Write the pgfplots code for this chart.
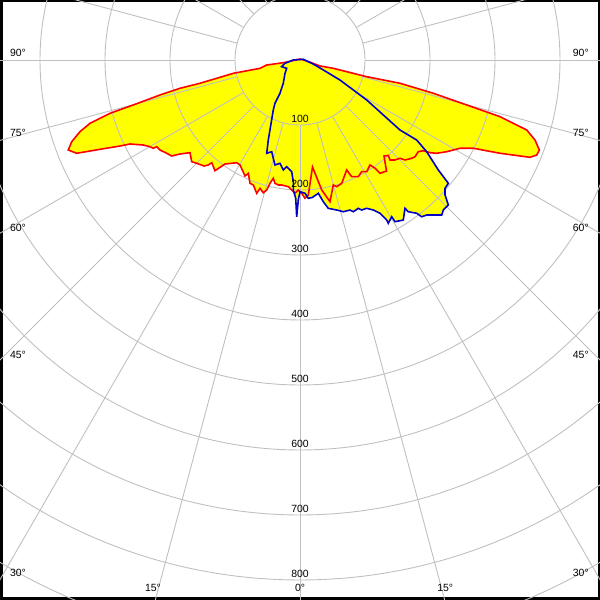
\documentclass[border=0pt]{standalone}
\usepackage{pgfplots}
\pgfplotsset{compat=1.18}
\usepackage{fontspec}
\setmainfont{Liberation Sans}
\definecolor{lgrid}{RGB}{192,192,192}
\definecolor{cblue}{RGB}{0,0,200}
\definecolor{cred}{RGB}{255,0,0}
\definecolor{cyel}{RGB}{255,255,0}
\pgfplotstableread{
x y
0 1.5
-25.7 -4.2
-51.2 -7.7
-61.5 -12.8
-102.6 -20.5
-153.8 -35.8
-184.6 -43.5
-215.4 -53.8
-256.5 -69.2
-292.3 -82
-323.1 -97.4
-338.5 -110.3
-351.2 -125.7
-356.5 -138.5
-343.5 -143.5
-307.7 -137.4
-276.9 -132.3
-261.5 -129.2
-241.1 -130.8
-230.8 -133.4
-225.7 -135.8
-220.5 -133.4
-215.4 -138.5
-205.1 -143.5
-197.4 -147.7
-184.6 -144.6
-169.2 -142.6
-166.6 -156.5
-158.9 -158.9
-147.7 -163.1
-141.1 -161.5
-135.8 -158
-130.8 -170.3
-123.1 -165.1
-115.4 -160
-105.1 -158.9
-97.4 -158
-92.3 -161.5
-84.6 -178.5
-79.5 -174.3
-76.9 -189.7
-71.8 -192.3
-66.6 -205.1
-61.5 -197.4
-56.5 -204.2
-51.2 -200
-46.2 -189.7
-41.1 -182
-38.5 -189.7
-33.4 -192.3
-28.2 -192.3
-18 -194.9
-12.8 -200
-7.7 -205.1
-2.6 -200
2.6 -205.1
7.7 -212.8
12.8 -207.7
19.2 -164.6
33.4 -200
46.2 -218
51.2 -192.3
56.5 -194.9
64.2 -189.7
71.8 -169.2
79.5 -179.5
89.7 -179.5
94.9 -171.8
102.6 -171.8
107.7 -161.5
115.4 -166.6
123.1 -174.3
133.1 -170.8
129.2 -147.7
135.8 -146.9
138.5 -153.8
146.2 -153.8
153.8 -151.2
161.5 -153.8
171.8 -151.2
176.9 -148.8
182 -141.1
189.7 -139.5
200 -142.6
210.3 -143.5
225.7 -141.1
235.8 -138.5
246.2 -135.8
266.6 -135.8
307.7 -143.5
353.8 -149.7
364.2 -146.2
368.2 -138.5
361.5 -123.1
348.8 -107.7
307.7 -87.2
256.5 -69.2
205.1 -51.2
153.8 -35.8
102.6 -25.7
51.2 -12.8
30.8 -9.2
10.3 -1.5
}\redcurve
\pgfplotstableread{
x y
5.1 1.1
-10.3 0
-23.1 -5.1
-28.2 -10.3
-20.5 -12.8
-23.1 -20.5
-25.7 -35.8
-30.8 -51.2
-38.5 -66.6
-41.1 -76.9
-46.2 -107.7
-48.8 -123.1
-51.2 -143.5
-43.5 -141.1
-41.1 -151.2
-38.5 -161.5
-30.8 -158.9
-25.7 -169.2
-20.5 -164.2
-12.8 -171.8
-10.3 -187.2
-10.3 -200
-6.6 -212.8
-5.1 -241.1
-2.6 -215.4
0 -202.6
7.7 -205.1
12.8 -212.8
18.9 -211.5
28.2 -205.1
35.8 -217.9
43.5 -228.2
56.5 -230.8
66.6 -233.4
76.9 -230.8
82 -233.4
89.7 -228.2
94.9 -230.8
102.6 -228.2
112.8 -230.8
123.1 -235.8
133.4 -246.2
135.8 -251.2
141.1 -241.1
146.2 -248.8
158.9 -246.2
161.5 -228.2
166.6 -233.4
179.5 -235.8
187.2 -241.1
194.9 -238.5
218 -238.5
220.5 -230.8
228.2 -223.1
223.1 -207.7
223.1 -197.4
228.2 -189.7
212.8 -169.2
194.9 -141.1
179.5 -123.1
153.8 -107.7
102.6 -61.5
61.5 -30.8
23.1 -7.7
18 -5.1
}\bluecurve
\tikzset{lbl/.style={font=\fontsize{10.5}{12}\selectfont, inner sep=0pt}}
\begin{document}
\begin{tikzpicture}
\begin{axis}[
  width=600bp, height=600bp, scale only axis,
  xmin=-461.54, xmax=461.54, ymin=-830.77, ymax=92.31,
  xtick=\empty, ytick=\empty,
  axis line style={black, line width=5bp},
  clip=true,
]
\addplot[fill=cyel, draw=none] table {\redcurve} -- cycle;
\addplot[fill=cyel, draw=none] table {\bluecurve} -- cycle;
\pgfplotsinvokeforeach{100,200,...,900}{
  \draw[lgrid, line width=0.9bp] (axis cs:0,0) circle[radius=#1*0.65bp];
}
\pgfplotsinvokeforeach{0,15,...,345}{
  \draw[lgrid, line width=0.9bp] (axis cs:{100*cos(#1)},{100*sin(#1)}) -- (axis cs:{1000*cos(#1)},{1000*sin(#1)});
}
\addplot[draw=cred, line width=1.6bp] table {\redcurve} -- cycle;
\addplot[draw=cblue, line width=1.6bp] table {\bluecurve} -- cycle;
\pgfplotsinvokeforeach{1,...,8}{
  \node[lbl] at (rel axis cs:0.5,{1-(60+65*#1-6.5)/600}) {#100};
}
\node[lbl] at (rel axis cs:0.030,{1-53/600}) {90°};
\node[lbl] at (rel axis cs:0.968,{1-53/600}) {90°};
\node[lbl] at (rel axis cs:0.030,{1-133/600}) {75°};
\node[lbl] at (rel axis cs:0.968,{1-133/600}) {75°};
\node[lbl] at (rel axis cs:0.030,{1-228/600}) {60°};
\node[lbl] at (rel axis cs:0.968,{1-228/600}) {60°};
\node[lbl] at (rel axis cs:0.030,{1-355/600}) {45°};
\node[lbl] at (rel axis cs:0.968,{1-355/600}) {45°};
\node[lbl] at (rel axis cs:0.030,{1-573/600}) {30°};
\node[lbl] at (rel axis cs:0.968,{1-573/600}) {30°};
\node[lbl] at (rel axis cs:0.255,0.021) {15°};
\node[lbl] at (rel axis cs:0.742,0.021) {15°};
\node[lbl] at (rel axis cs:0.5,0.021) {0°};
\end{axis}
\pgfresetboundingbox
\useasboundingbox (current axis.south west) rectangle (current axis.north east);
\end{tikzpicture}
\end{document}
